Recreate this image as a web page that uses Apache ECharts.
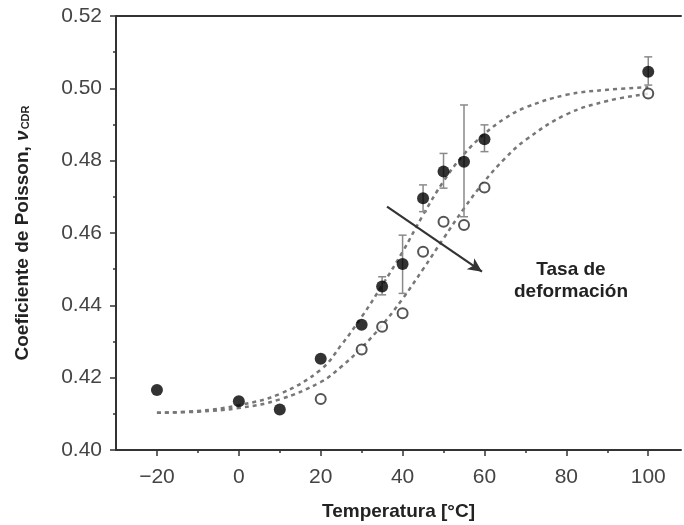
<!DOCTYPE html>
<html lang="es">
<head>
  <meta charset="UTF-8">
  <title>Coeficiente de Poisson</title>
  <script src="https://cdn.jsdelivr.net/npm/echarts@6/dist/echarts.min.js"></script>
  <style>
    html, body { margin: 0; padding: 0; background: #fff; }
    #wrap { width: 684px; height: 525px; }
  </style>
</head>
<body>
<div id="wrap"></div>
<script>
  // datos
  const tempFilled = [-20, 0, 10, 20, 30, 35, 40, 45, 50, 55, 60, 100]
  const nuFilled = [0.4166, 0.4135, 0.4112, 0.4252, 0.4346, 0.4452, 0.4514, 0.4696, 0.4770, 0.4797, 0.4859, 0.5046]

  const tempOpen = [20, 30, 35, 40, 45, 50, 55, 60, 100]
  const nuOpen = [0.4141, 0.4278, 0.4341, 0.4378, 0.4548, 0.4631, 0.4622, 0.4726, 0.4986]

  // barras de error (solo circulos llenos)
  const errTemp = [35, 40, 45, 50, 55, 60, 100]
  const errLow = [0.4429, 0.4433, 0.4659, 0.4724, 0.4645, 0.4825, 0.5009]
  const errHigh = [0.4479, 0.4594, 0.4733, 0.4820, 0.4954, 0.4899, 0.5087]

  // curvas de ajuste (punteadas)
  const curveT = [-20, -10, 0, 10, 20, 25, 30, 35, 40, 45, 50, 55, 60, 65, 70, 80, 90, 100]
  const upperFit = [0.4103, 0.4108, 0.4124, 0.4155, 0.4222, 0.4290, 0.4368, 0.4455, 0.4548, 0.4650, 0.4743, 0.4818, 0.4874, 0.4917, 0.4947, 0.4982, 0.4996, 0.5003]
  const lowerFit = [0.4103, 0.4106, 0.4116, 0.4140, 0.4188, 0.4230, 0.4283, 0.4345, 0.4418, 0.4500, 0.4585, 0.4668, 0.4743, 0.4806, 0.4857, 0.4928, 0.4965, 0.4985]

  const xTicks = [-20, 0, 20, 40, 60, 80, 100]
  const xMinor = [-10, 10, 30, 50, 70, 90]

  const zip = (a, b) => a.map((v, i) => [v, b[i]])
  const fmtX = v => String(v).replace('-', '\u2212')

  const chart = echarts.init(document.querySelector('#wrap'))

  const axisColor = '#333'
  const font = 'Liberation Sans, Arial, sans-serif'

  const ops = {
    animation: false,
    grid: { left: 116, top: 16, right: 3, bottom: 75, outerBoundsMode: 'none', containLabel: false },
    xAxis: [
      {
        type: 'value', min: -30, max: 108, interval: 10,
        splitLine: { show: false },
        axisLine: { onZero: false, lineStyle: { color: axisColor, width: 2 } },
        axisTick: { customValues: xTicks, length: 6, lineStyle: { color: axisColor, width: 1.5 } },
        axisLabel: { customValues: xTicks, formatter: fmtX, color: '#444', fontSize: 21, fontFamily: font, margin: 17 },
        name: 'Temperatura [°C]', nameLocation: 'middle', nameGap: 52,
        nameTextStyle: { color: '#222', fontSize: 19, fontWeight: 'bold', fontFamily: font }
      },
      {
        // ticks menores
        type: 'value', min: -30, max: 108, interval: 10, position: 'bottom',
        splitLine: { show: false }, axisLine: { show: false, onZero: false },
        axisTick: { customValues: xMinor, length: 3, lineStyle: { color: axisColor, width: 1.5 } },
        axisLabel: { show: false }
      },
      {
        // borde superior
        type: 'value', min: -30, max: 108, position: 'top',
        splitLine: { show: false },
        axisLine: { onZero: false, lineStyle: { color: axisColor, width: 2 } },
        axisTick: { show: false }, axisLabel: { show: false }
      }
    ],
    yAxis: {
      type: 'value', min: 0.40, max: 0.52, interval: 0.02,
      splitLine: { show: false },
      axisLine: { show: true, onZero: false, lineStyle: { color: axisColor, width: 2 } },
      axisTick: { show: true, length: 6, lineStyle: { color: axisColor, width: 1.5 } },
      minorTick: { show: true, splitNumber: 2, length: 3, lineStyle: { color: axisColor, width: 1.5 } },
      axisLabel: { formatter: v => v.toFixed(2), color: '#444', fontSize: 21, fontFamily: font, margin: 14 },
      name: 'Coeficiente de Poisson, {it|\u03bd}{sub|CDR}',
      nameLocation: 'middle', nameGap: 84,
      nameTextStyle: {
        color: '#222', fontSize: 19, fontWeight: 'bold', fontFamily: font,
        rich: {
          it: { fontSize: 19, fontStyle: 'italic', color: '#222', fontFamily: font },
          sub: { fontSize: 11, color: '#222', fontFamily: font, padding: [7, 0, 0, 1] }
        }
      }
    },
    graphic: [
      {
        type: 'text', x: 571, y: 259,
        style: {
          text: 'Tasa de\ndeformación', align: 'center',
          fill: '#222', font: 'bold 19px ' + font, lineHeight: 22
        }
      }
    ],
    series: [
      {
        type: 'line', name: 'ajuste 1', data: zip(curveT, upperFit),
        smooth: 0.4, showSymbol: false, z: 1,
        lineStyle: { color: '#777', width: 2.5, type: [4, 4] },
        markLine: {
          silent: true, symbol: ['none', 'arrow'], symbolSize: [10, 14],
          label: { show: false },
          lineStyle: { color: '#333', width: 2.2, type: 'solid' },
          data: [[{ coord: [36.2, 0.4673] }, { coord: [59.4, 0.4493] }]]
        }
      },
      {
        type: 'line', name: 'ajuste 2', data: zip(curveT, lowerFit),
        smooth: 0.4, showSymbol: false, z: 1,
        lineStyle: { color: '#777', width: 2.5, type: [4, 4] }
      },
      {
        type: 'custom', name: 'error', z: 2,
        data: errTemp.map((t, i) => [t, errLow[i], errHigh[i]]),
        renderItem: (params, api) => {
          const lo = api.coord([api.value(0), api.value(1)])
          const hi = api.coord([api.value(0), api.value(2)])
          const w = 4
          const st = { stroke: '#8a8a8a', lineWidth: 1.5 }
          return {
            type: 'group',
            children: [
              { type: 'line', shape: { x1: lo[0], y1: lo[1], x2: hi[0], y2: hi[1] }, style: st },
              { type: 'line', shape: { x1: lo[0] - w, y1: lo[1], x2: lo[0] + w, y2: lo[1] }, style: st },
              { type: 'line', shape: { x1: hi[0] - w, y1: hi[1], x2: hi[0] + w, y2: hi[1] }, style: st }
            ]
          }
        }
      },
      {
        type: 'scatter', name: 'abiertos', data: zip(tempOpen, nuOpen), z: 3,
        symbol: 'circle', symbolSize: 10,
        itemStyle: { color: '#fff', borderColor: '#2a2a2a', borderWidth: 2 }
      },
      {
        type: 'scatter', name: 'llenos', data: zip(tempFilled, nuFilled), z: 4,
        symbol: 'circle', symbolSize: 12,
        itemStyle: { color: '#000' }
      }
    ]
  }

  chart.setOption(ops)
</script>
</body>
</html>
